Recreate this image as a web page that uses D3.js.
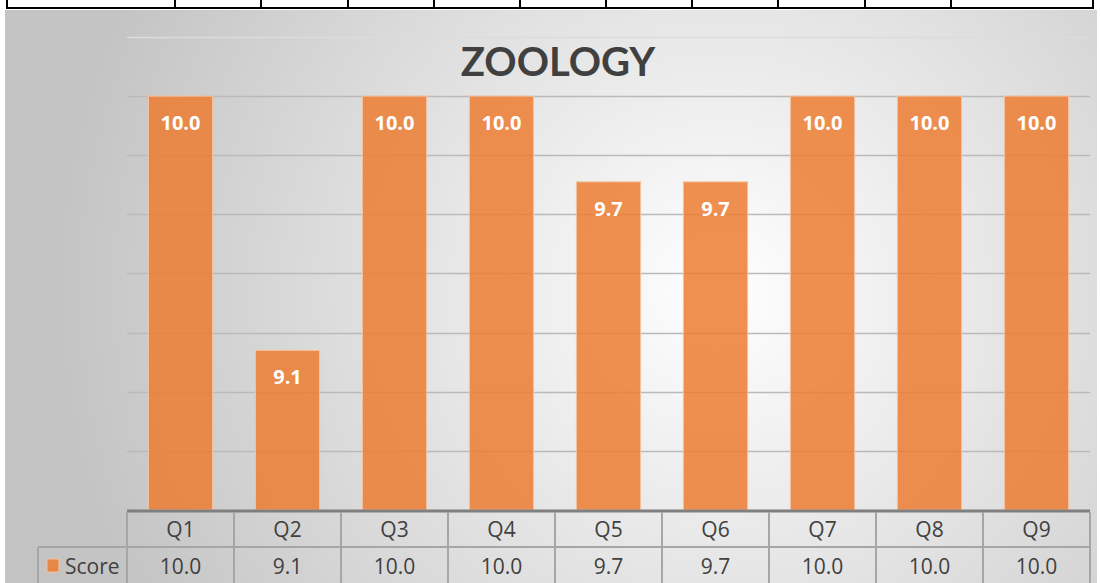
<!DOCTYPE html>
<html>
<head>
<meta charset="utf-8">
<script src="https://cdn.jsdelivr.net/npm/d3@7"></script>
<style>
  body { margin: 0; background: #fff; }
  svg { display: block; font-family: "Open Sans", Lato, sans-serif; }
</style>
</head>
<body>
<script>
// chart data
var questions = ["Q1", "Q2", "Q3", "Q4", "Q5", "Q6", "Q7", "Q8", "Q9"];
var scores = [10.0, 9.14, 10.0, 10.0, 9.71, 9.71, 10.0, 10.0, 10.0];
var seriesName = "Score";
var chartTitle = "ZOOLOGY";
var gridTicks = [8.8, 9.0, 9.2, 9.4, 9.6, 9.8, 10.0, 10.2];
// column lines of the table row cut off above the chart
var topRowLines = [7, 175, 261, 348, 434, 520, 606, 692, 778, 865, 951, 1093];

var width = 1101, height = 583;
var fmt = d3.format(".1f");

var svg = d3.select("body").append("svg")
    .attr("width", width)
    .attr("height", height);

var defs = svg.append("defs");
var grad = defs.append("radialGradient")
    .attr("id", "bg")
    .attr("gradientUnits", "userSpaceOnUse")
    .attr("cx", 720).attr("cy", 290).attr("r", 660);
grad.append("stop").attr("offset", "0%").attr("stop-color", "#ffffff");
grad.append("stop").attr("offset", "100%").attr("stop-color", "#c4c4c4");

// leftover table row on top of the page
svg.append("line")
    .attr("x1", 6).attr("x2", 1094)
    .attr("y1", 8).attr("y2", 8)
    .attr("stroke", "#000").attr("stroke-width", 2);
svg.selectAll(".toprow")
  .data(topRowLines)
  .enter().append("line")
    .attr("class", "toprow")
    .attr("x1", function(d) { return d; }).attr("x2", function(d) { return d; })
    .attr("y1", 0).attr("y2", 8)
    .attr("stroke", "#000").attr("stroke-width", 2);

// chart area
svg.append("rect")
    .attr("x", 5).attr("y", 10)
    .attr("width", 1092).attr("height", 573)
    .attr("fill", "url(#bg)");

var x = d3.scaleBand()
    .domain(questions)
    .range([127, 1090]);

var y = d3.scaleLinear()
    .domain([8.6, 10.2])
    .range([510, 37]);

var barW = x.bandwidth() * 0.6;

// gridlines
svg.append("g")
  .selectAll("line")
  .data(gridTicks)
  .enter().append("line")
    .attr("x1", 127).attr("x2", 1090)
    .attr("y1", function(d) { return Math.round(y(d)) + 0.5; })
    .attr("y2", function(d) { return Math.round(y(d)) + 0.5; })
    .attr("stroke", function(d, i) { return i == gridTicks.length - 1 ? "#dcdcdc" : "#bababa"; })
    .attr("stroke-width", 1.5);

// title
svg.append("text")
    .attr("x", 558).attr("y", 76)
    .attr("text-anchor", "middle")
    .attr("font-family", "Lato, sans-serif")
    .attr("font-size", 40)
    .attr("font-weight", "bold")
    .attr("fill", "#404040")
    .text(chartTitle);

// bars
var bars = svg.append("g").selectAll("g")
  .data(questions)
  .enter().append("g");

bars.append("rect")
    .attr("x", function(d) { return x(d) + (x.bandwidth() - barW) / 2; })
    .attr("y", function(d, i) { return y(scores[i]); })
    .attr("width", barW)
    .attr("height", function(d, i) { return y(8.6) - y(scores[i]); })
    .attr("fill", "#ed7d31")
    .attr("fill-opacity", 0.85)
    .attr("stroke", "#f6c3a0")
    .attr("stroke-width", 1);

bars.append("text")
    .attr("x", function(d) { return x(d) + x.bandwidth() / 2; })
    .attr("y", function(d, i) { return y(scores[i]) + 34; })
    .attr("text-anchor", "middle")
    .attr("font-size", 20)
    .attr("font-weight", "bold")
    .attr("fill", "#fff")
    .text(function(d, i) { return fmt(scores[i]); });

// data table below the axis
var table = svg.append("g")
    .attr("stroke", "#a6a6a6")
    .attr("stroke-width", 2);

table.append("line")
    .attr("x1", 127).attr("x2", 1090)
    .attr("y1", 511).attr("y2", 511)
    .attr("stroke", "#7f7f7f").attr("stroke-width", 3);
table.append("line")
    .attr("x1", 38).attr("x2", 1090)
    .attr("y1", 547).attr("y2", 547);
table.append("line")
    .attr("x1", 38).attr("x2", 38)
    .attr("y1", 547).attr("y2", 583);

var colEdges = questions.map(function(d) { return x(d); }).concat([x.range()[1]]);
table.selectAll(".col")
  .data(colEdges)
  .enter().append("line")
    .attr("class", "col")
    .attr("x1", function(d) { return d; }).attr("x2", function(d) { return d; })
    .attr("y1", 512).attr("y2", 583);

svg.append("g").selectAll("text")
  .data(questions)
  .enter().append("text")
    .attr("x", function(d) { return x(d) + x.bandwidth() / 2; })
    .attr("y", 537)
    .attr("text-anchor", "middle")
    .attr("font-size", 21)
    .attr("fill", "#404040")
    .text(function(d) { return d; });

svg.append("g").selectAll("text")
  .data(scores)
  .enter().append("text")
    .attr("x", function(d, i) { return x(questions[i]) + x.bandwidth() / 2; })
    .attr("y", 574)
    .attr("text-anchor", "middle")
    .attr("font-size", 21)
    .attr("fill", "#404040")
    .text(function(d) { return fmt(d); });

// legend key in the table
svg.append("rect")
    .attr("x", 47).attr("y", 559)
    .attr("width", 12).attr("height", 13)
    .attr("fill", "#ed7d31").attr("fill-opacity", 0.85)
    .attr("stroke", "#f6c3a0");
svg.append("text")
    .attr("x", 65).attr("y", 574)
    .attr("font-size", 21)
    .attr("fill", "#404040")
    .text(seriesName);
</script>
</body>
</html>
